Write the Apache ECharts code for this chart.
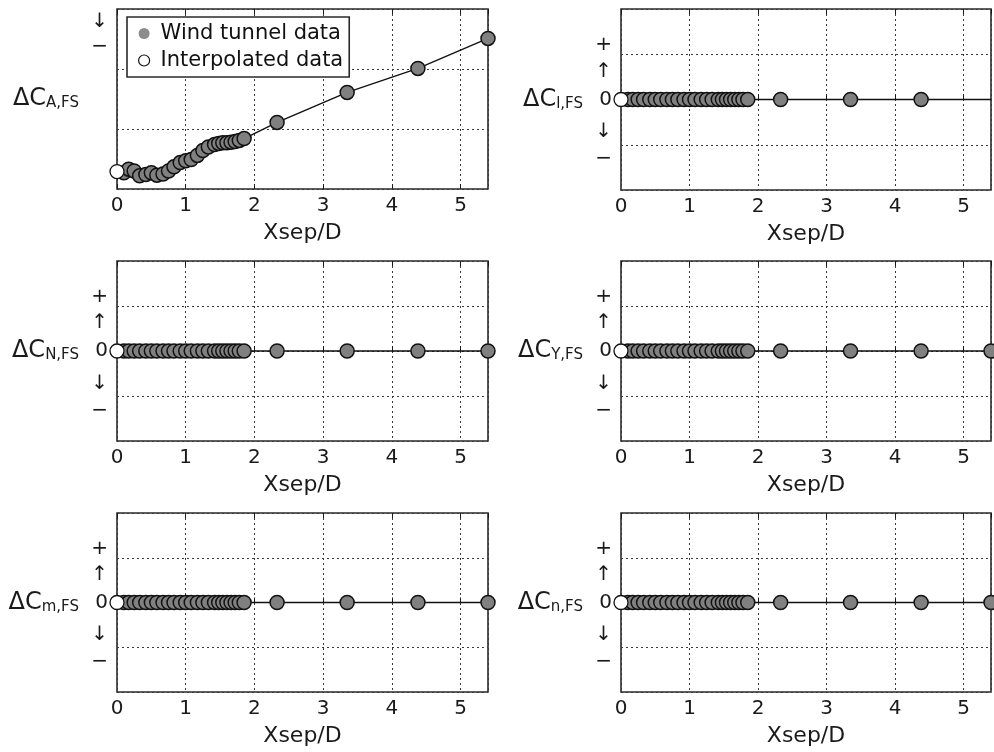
<!DOCTYPE html>
<html>
<head>
	<meta charset="utf-8">
	<title>Delta C vs Xsep/D</title>
	<script src="https://cdn.jsdelivr.net/npm/echarts@6/dist/echarts.min.js"></script>
	<style type="text/css">
		html, body { margin: 0; padding: 0; background: #fff; }
		#chart { width: 994px; height: 752px; }
	</style>
</head>
<body>
<div id="chart"></div>
<script type="text/javascript">
	// stations where wind tunnel data exist (Xsep/D)
	var xsepWT = [0.10, 0.17, 0.25, 0.33, 0.42, 0.50, 0.58, 0.67, 0.75, 0.83, 0.92, 1.00,
		1.08, 1.17, 1.25, 1.33, 1.42, 1.48, 1.54, 1.60, 1.66, 1.72, 1.78, 1.85,
		2.33, 3.35, 4.38, 5.40];
	var xsepInterp = [0];

	// delta coefficients (arbitrary units, only signs shown on the axes)
	var dCA_wt = [0.27, 0.33, 0.30, 0.22, 0.24, 0.27, 0.23, 0.25, 0.30, 0.37, 0.44, 0.47,
		0.49, 0.56, 0.64, 0.70, 0.74, 0.76, 0.77, 0.77, 0.78, 0.79, 0.81, 0.84,
		1.11, 1.61, 2.01, 2.51];
	var dCA_interp = [0.29];
	var dCl_wt = [0, 0, 0, 0, 0, 0, 0, 0, 0, 0, 0, 0, 0, 0, 0, 0, 0, 0, 0, 0, 0, 0, 0, 0, 0, 0, 0, 0];
	var dCl_interp = [0];
	var dCN_wt = [0, 0, 0, 0, 0, 0, 0, 0, 0, 0, 0, 0, 0, 0, 0, 0, 0, 0, 0, 0, 0, 0, 0, 0, 0, 0, 0, 0];
	var dCN_interp = [0];
	var dCY_wt = [0, 0, 0, 0, 0, 0, 0, 0, 0, 0, 0, 0, 0, 0, 0, 0, 0, 0, 0, 0, 0, 0, 0, 0, 0, 0, 0, 0];
	var dCY_interp = [0];
	var dCm_wt = [0, 0, 0, 0, 0, 0, 0, 0, 0, 0, 0, 0, 0, 0, 0, 0, 0, 0, 0, 0, 0, 0, 0, 0, 0, 0, 0, 0];
	var dCm_interp = [0];
	var dCn_wt = [0, 0, 0, 0, 0, 0, 0, 0, 0, 0, 0, 0, 0, 0, 0, 0, 0, 0, 0, 0, 0, 0, 0, 0, 0, 0, 0, 0];
	var dCn_interp = [0];

	// how many wind tunnel markers each panel shows (l panel has no marker at 5.4)
	var markersShown = [28, 27, 28, 28, 28, 28];

	var xTicks = [0, 1, 2, 3, 4, 5];
	// sign labels on the y axes
	var signTickVals = [1.2, 0.62, 0, -0.72, -1.32];
	var signTickText = ['+', '\u2191', '0', '\u2193', '\u2212'];
	var aTickVals = [2.78, 2.37];
	var aTickText = ['\u2193', '\u2212'];

	var panelSubs = ['A,FS', 'l,FS', 'N,FS', 'Y,FS', 'm,FS', 'n,FS'];

	var FONT = 'DejaVu Sans';
	var INK = '#1a1a1a';
	var DOTS = { type: [2, 3], color: '#3a3a3a', width: 1 };

	var panels = [
		{ sub: panelSubs[0], wt: dCA_wt, ip: dCA_interp, min: 0, max: 3, tv: aTickVals, tt: aTickText },
		{ sub: panelSubs[1], wt: dCl_wt, ip: dCl_interp, min: -2, max: 2, tv: signTickVals, tt: signTickText },
		{ sub: panelSubs[2], wt: dCN_wt, ip: dCN_interp, min: -2, max: 2, tv: signTickVals, tt: signTickText },
		{ sub: panelSubs[3], wt: dCY_wt, ip: dCY_interp, min: -2, max: 2, tv: signTickVals, tt: signTickText },
		{ sub: panelSubs[4], wt: dCm_wt, ip: dCm_interp, min: -2, max: 2, tv: signTickVals, tt: signTickText },
		{ sub: panelSubs[5], wt: dCn_wt, ip: dCn_interp, min: -2, max: 2, tv: signTickVals, tt: signTickText }
	];

	var gridBoxes = [
		{ left: 117, top: 9, width: 371, height: 180 },
		{ left: 621, top: 9, width: 370, height: 181 },
		{ left: 117, top: 261, width: 371, height: 180 },
		{ left: 621, top: 261, width: 370, height: 180 },
		{ left: 117, top: 513, width: 371, height: 179 },
		{ left: 621, top: 513, width: 370, height: 179 }
	];

	var grids = [], xAxes = [], yAxes = [], series = [];

	panels.forEach(function (p, i) {
		var b = gridBoxes[i];
		grids.push({
			left: b.left, top: b.top, width: b.width, height: b.height,
			show: true, borderColor: '#2a2a2a', borderWidth: 1.6, backgroundColor: 'transparent'
		});
		xAxes.push({
			gridIndex: i, type: 'value', min: 0, max: 5.4, interval: 1,
			axisLine: { show: false },
			axisTick: { show: true, inside: true, length: 5, lineStyle: { color: INK } },
			axisLabel: {
				showMaxLabel: false, fontSize: 20, fontFamily: FONT, color: INK, margin: 7,
				formatter: function (v) { return xTicks.indexOf(v) >= 0 ? String(v) : ''; }
			},
			splitLine: { show: true, lineStyle: DOTS },
			name: 'Xsep/D', nameLocation: 'middle', nameGap: 33,
			nameTextStyle: { fontSize: 22, fontFamily: FONT, color: INK }
		});
		xAxes.push({
			gridIndex: i, type: 'value', min: 0, max: 5.4, interval: 1, position: 'top',
			axisLine: { show: false },
			axisTick: { show: true, inside: true, length: 5, lineStyle: { color: INK } },
			axisLabel: { show: false },
			splitLine: { show: false }
		});
		yAxes.push({
			gridIndex: i, type: 'value', min: p.min, max: p.max, interval: 1,
			axisLine: { show: false },
			axisTick: { show: false },
			axisLabel: {
				customValues: p.tv, fontSize: 20, fontFamily: FONT, color: INK, margin: 9,
				formatter: (function (tv, tt) {
					return function (v) { var k = tv.indexOf(v); return k >= 0 ? tt[k] : ''; };
				})(p.tv, p.tt)
			},
			splitLine: { show: true, lineStyle: DOTS },
			name: '{d|\u0394C}{s|' + p.sub + '}', nameLocation: 'middle', nameRotate: 0, nameGap: 38,
			nameTextStyle: {
				rich: {
					d: { fontSize: 24, lineHeight: 24, fontFamily: FONT, color: INK, verticalAlign: 'top' },
					s: { fontSize: 15, lineHeight: 15, fontFamily: FONT, color: INK, verticalAlign: 'bottom', padding: [13, 0, 0, 0] }
				}
			}
		});

		var linePts = [];
		xsepInterp.forEach(function (x, k) { linePts.push([x, p.ip[k]]); });
		xsepWT.forEach(function (x, k) { linePts.push([x, p.wt[k]]); });
		var wtPts = [];
		for (var k = 0; k < markersShown[i]; k++) wtPts.push([xsepWT[k], p.wt[k]]);
		var ipPts = xsepInterp.map(function (x, k) { return [x, p.ip[k]]; });

		series.push({
			type: 'line', xAxisIndex: 2 * i, yAxisIndex: i, data: linePts,
			symbol: 'none', silent: true, z: 2,
			lineStyle: { color: '#111', width: 1.4 }
		});
		series.push({
			name: 'Wind tunnel data', type: 'scatter', xAxisIndex: 2 * i, yAxisIndex: i,
			data: wtPts, symbol: 'circle', symbolSize: 14, clip: false, z: 3,
			itemStyle: { color: '#808080', borderColor: '#111', borderWidth: 1.5, opacity: 1 }
		});
		series.push({
			name: 'Interpolated data', type: 'scatter', xAxisIndex: 2 * i, yAxisIndex: i,
			data: ipPts, symbol: 'circle', symbolSize: 14, clip: false, z: 3,
			itemStyle: { color: '#fff', borderColor: '#111', borderWidth: 1.3, opacity: 1 }
		});
	});

	var myChart = echarts.init(document.getElementById('chart'), null, { renderer: 'canvas' });
	var option = {
		backgroundColor: '#fff',
		animation: false,
		legend: {
			data: [
				{ name: 'Wind tunnel data', itemStyle: { color: '#8c8c8c', borderWidth: 0 } },
				{ name: 'Interpolated data', itemStyle: { color: '#fff', borderColor: '#111', borderWidth: 1.2 } }
			],
			orient: 'vertical', left: 127, top: 17,
			backgroundColor: '#fff', borderColor: '#2a2a2a', borderWidth: 1.6,
			padding: [6, 6, 6, 11], itemGap: 6, itemWidth: 11, itemHeight: 11,
			icon: 'circle',
			textStyle: { fontSize: 21, fontFamily: FONT, color: '#111', padding: [0, 0, 0, 6] },
			z: 10
		},
		grid: grids,
		xAxis: xAxes,
		yAxis: yAxes,
		series: series
	};
	myChart.setOption(option);
</script>
</body>
</html>
